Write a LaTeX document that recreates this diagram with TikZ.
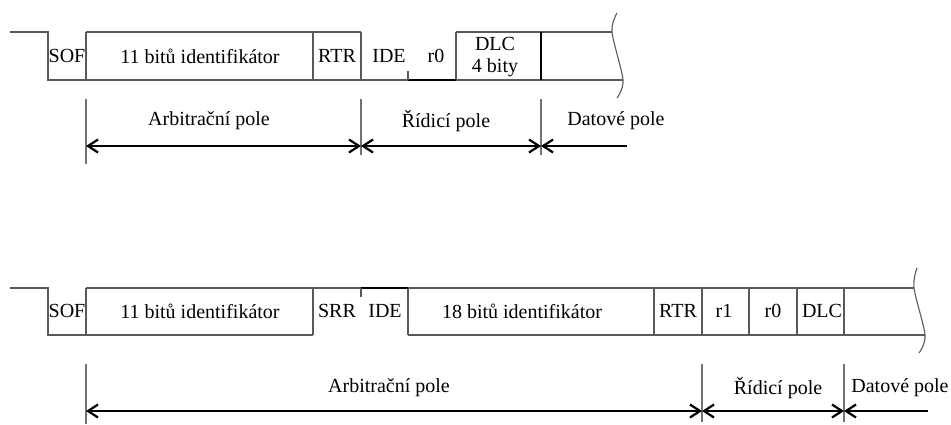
\documentclass[tikz,border=0pt]{standalone}
\usepackage{fontspec}
\setmainfont{Liberation Serif}
\usetikzlibrary{arrows.meta,positioning}
\tikzset{every picture/.style={line width=0.5pt}}

\begin{document}
\begin{tikzpicture}[x=0.5pt, y=-0.5pt,
    sig/.style={black!65, line width=0.55pt},
    dark/.style={black, line width=0.9pt},
    ext/.style={black!55, line width=0.55pt},
    span/.style={black, line width=1.1pt, {Straight Barb[length=5pt,width=6.5pt]}-{Straight Barb[length=5pt,width=6.5pt]}},
    openspan/.style={black, line width=1.1pt, {Straight Barb[length=5pt,width=6.5pt]}-},
    field/.style={inner sep=0pt, align=center, font=\fontsize{10}{11}\selectfont}]
    \useasboundingbox (0,0) rectangle (951,424);

    % Standardni ramec (11 bitu)
    \draw[sig] (10,32) -- (48,32) -- (48,80) -- (623,80);
    \draw[sig] (86,32) -- (361,32);
    \draw[sig] (456,32) -- (612,32);
    \foreach \x in {86,313,361,456} \draw[sig] (\x,32) -- (\x,80);
    \draw[dark] (541,32) -- (541,80);
    \draw[dark] (408,80) -- (456,80);
    \draw[sig] (408,80) -- (408,71);
    \draw[sig] plot[smooth] coordinates {(617,13) (612,32) (623,80) (617,98)};

    \node[field] (sofA) at (67,56) {SOF};
    \node[field] (idA) at (200,56) {11 bitů identifikátor};
    \node[field] (rtrA) at (337,56) {RTR};
    \node[field] (ideA) at (389,56) {IDE};
    \node[field] (rzeroA) at (436,56) {r0};
    \node[field] (dlcA) at (495,57) {DLC\\4 bity};

    % Pole - horni ramec
    \coordinate (a0) at (86,146);
    \coordinate (a1) at (361,146);
    \coordinate (a2) at (541,146);
    \coordinate (a3) at (627,146);
    \draw[ext] (86,99) -- (86,164);
    \draw[ext] (361,99) -- (361,155);
    \draw[ext] (541,99) -- (541,155);
    \draw[span] (a0) -- (a1);
    \draw[span] (a1) -- (a2);
    \draw[openspan] (a2) -- (a3);
    \node[field] (arbA) at (209,121) {Arbitrační pole};
    \node[field] (ridA) at (446,121) {Řídicí pole};
    \node[field] (datA) at (616,121) {Datové pole};

    % Rozsireny ramec (29 bitu)
    \draw[sig] (10,288) -- (48,288) -- (48,335) -- (313,335);
    \draw[sig] (86,288) -- (914,288);
    \draw[sig] (408,335) -- (925,335);
    \foreach \x in {86,313,408,654,702,749,797,844} \draw[sig] (\x,288) -- (\x,335);
    \draw[dark] (361,288) -- (408,288);
    \draw[sig] (361,288) -- (361,297);
    \draw[sig] plot[smooth] coordinates {(917,268) (914,288) (925,335) (919,353)};

    \node[field] (sofB) at (67,311) {SOF};
    \node[field] (idB) at (200,311) {11 bitů identifikátor};
    \node[field] (srrB) at (337,311) {SRR};
    \node[field] (ideB) at (385,311) {IDE};
    \node[field] (extB) at (522,311) {18 bitů identifikátor};
    \node[field] (rtrB) at (678,311) {RTR};
    \node[field] (roneB) at (724,311) {r1};
    \node[field] (rzeroB) at (773,311) {r0};
    \node[field] (dlcB) at (822,311) {DLC};

    % Pole - dolni ramec
    \coordinate (b0) at (86,411);
    \coordinate (b1) at (702,411);
    \coordinate (b2) at (844,411);
    \coordinate (b3) at (928,411);
    \draw[ext] (86,364) -- (86,424);
    \draw[ext] (702,364) -- (702,422);
    \draw[ext] (844,364) -- (844,422);
    \draw[span] (b0) -- (b1);
    \draw[span] (b1) -- (b2);
    \draw[openspan] (b2) -- (b3);
    \node[field] (arbB) at (389,388) {Arbitrační pole};
    \node[field] (ridB) at (778,388) {Řídicí pole};
    \node[field] (datB) at (900,388) {Datové pole};
\end{tikzpicture}
\end{document}
